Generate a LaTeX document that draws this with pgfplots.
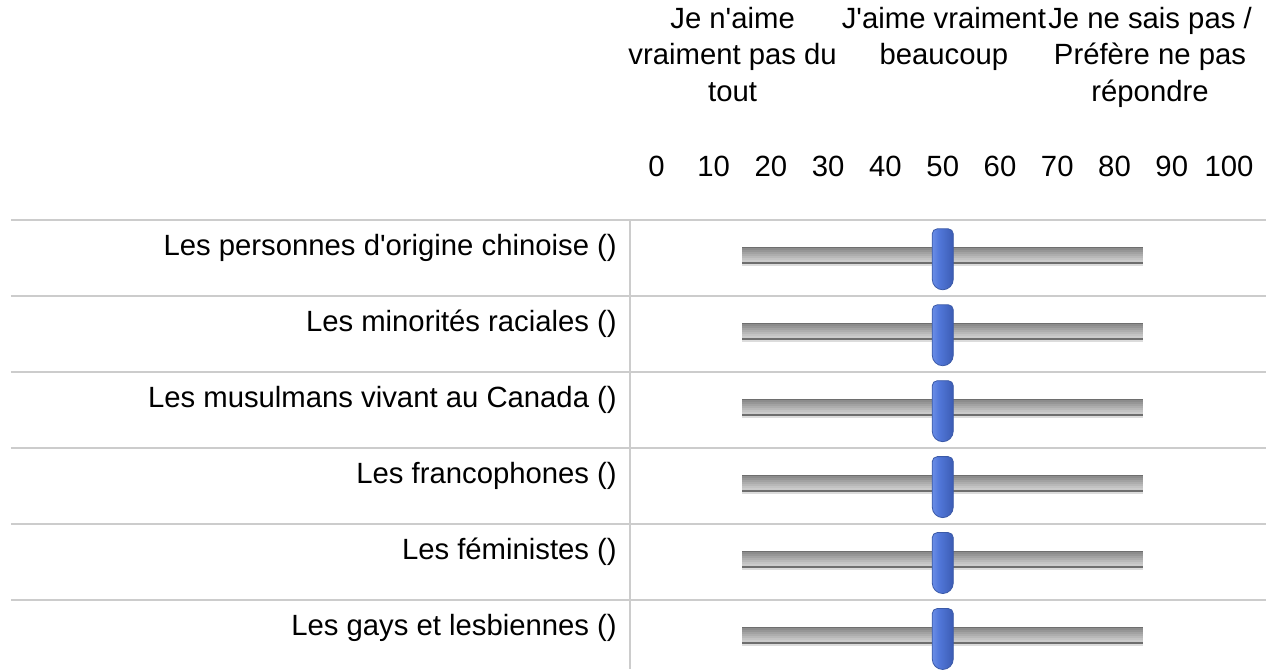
\documentclass[border=0pt]{standalone}
\usepackage{fontspec}
\setmainfont{Liberation Sans}
\usepackage{pgfplots}
\pgfplotsset{compat=1.18}

\definecolor{sepgray}{HTML}{CCCCCC}
\definecolor{trkU}{HTML}{DCDCDC}
\definecolor{trkD}{HTML}{6E6E6E}
\definecolor{trk1}{HTML}{8C8C8C}
\definecolor{trk2}{HTML}{969696}
\definecolor{trk3}{HTML}{A2A2A2}
\definecolor{trk4}{HTML}{ADADAD}
\definecolor{trk5}{HTML}{B8B8B8}
\definecolor{trk6}{HTML}{C3C3C3}
\definecolor{trk7}{HTML}{CBCBCB}
\definecolor{hA}{HTML}{6A8DE6}
\definecolor{hB}{HTML}{5278DA}
\definecolor{hC}{HTML}{3C5CB4}
\definecolor{hEdge}{HTML}{3B5AA8}

\pgfdeclarehorizontalshading{handleshade}{100bp}{color(0bp)=(hA); color(25bp)=(hA); color(40bp)=(hB); color(75bp)=(hC); color(100bp)=(hC)}

\pgfdeclareplotmark{slider}{%
  \pgfpathmoveto{\pgfqpoint{-10.5pt}{-21.5pt}}%
  \pgfpathlineto{\pgfqpoint{-10.5pt}{24pt}}%
  \pgfpatharc{180}{90}{5pt}%
  \pgfpathlineto{\pgfqpoint{5.5pt}{29pt}}%
  \pgfpatharc{90}{0}{5pt}%
  \pgfpathlineto{\pgfqpoint{10.5pt}{-21.5pt}}%
  \pgfpatharc{0}{-180}{10.5pt}%
  \pgfpathclose
  \pgfshadepath{handleshade}{0}%
  \pgfusepathqstroke
}

\newcommand\ap{\textquotesingle}
\newcommand\bigfont{\fontsize{29.3}{36}\selectfont}

\pgfplotstableread{
row value
0 50
1 50
2 50
3 50
4 50
5 50
}\sliderdata

\begin{document}
\begin{tikzpicture}
\begin{axis}[
  width=1267pt, height=670pt, scale only axis,
  xmin=-114.66, xmax=106.46,
  ymin=-3.3947, ymax=5.4211,
  y dir=reverse,
  axis line style={draw=none},
  ticks=none,
  clip=false,
]
\path (rel axis cs:0,0) rectangle (rel axis cs:1,1);

% separators
\pgfplotsinvokeforeach{-0.5,0.5,1.5,2.5,3.5,4.5}{
  \draw[sepgray, line width=2pt] (axis cs:-112.74,#1) -- (axis cs:106.46,#1);
}
\draw[sepgray, line width=2pt] (axis cs:-4.71,-0.5) -- (axis cs:-4.71,5.4211);

% slider tracks
\pgfplotsinvokeforeach{0,1,2,3,4,5}{
  \addplot[trkU, line width=19pt, yshift=1.5pt, forget plot] coordinates {(15,#1) (85,#1)};
  \addplot[trkD, line width=17pt, yshift=2.5pt, forget plot] coordinates {(15,#1) (85,#1)};
  \addplot[trk1, line width=2pt, yshift=8.5pt, forget plot] coordinates {(15,#1) (85,#1)};
  \addplot[trk2, line width=2pt, yshift=6.5pt, forget plot] coordinates {(15,#1) (85,#1)};
  \addplot[trk3, line width=2pt, yshift=4.5pt, forget plot] coordinates {(15,#1) (85,#1)};
  \addplot[trk4, line width=2pt, yshift=2.5pt, forget plot] coordinates {(15,#1) (85,#1)};
  \addplot[trk5, line width=2pt, yshift=0.5pt, forget plot] coordinates {(15,#1) (85,#1)};
  \addplot[trk6, line width=2pt, yshift=-1.5pt, forget plot] coordinates {(15,#1) (85,#1)};
  \addplot[trk7, line width=2pt, yshift=-3.5pt, forget plot] coordinates {(15,#1) (85,#1)};
}

% slider handles (values)
\addplot[only marks, mark=slider, mark options={draw=hEdge, line width=0.8pt}] table[x=value, y=row] {\sliderdata};

% scale numbers
\pgfplotsinvokeforeach{0,10,20,30,40,50,60,70,80,90,100}{
  \node[anchor=base, font=\bigfont, inner sep=0pt] at (axis cs:#1,-1.0724) {#1};
}

% header labels
\node[anchor=base, font=\bigfont, inner sep=0pt] at (axis cs:13.3,-3.0197) {Je n\ap aime};
\node[anchor=base, font=\bigfont, inner sep=0pt] at (axis cs:13.3,-2.5395) {vraiment pas du};
\node[anchor=base, font=\bigfont, inner sep=0pt] at (axis cs:13.3,-2.0592) {tout};
\node[anchor=base, font=\bigfont, inner sep=0pt] at (axis cs:50.2,-3.0197) {J\ap aime vraiment};
\node[anchor=base, font=\bigfont, inner sep=0pt] at (axis cs:50.2,-2.5395) {beaucoup};
\node[anchor=base, font=\bigfont, inner sep=0pt] at (axis cs:86.2,-3.0197) {Je ne sais pas /};
\node[anchor=base, font=\bigfont, inner sep=0pt] at (axis cs:86.2,-2.5395) {Préfère ne pas};
\node[anchor=base, font=\bigfont, inner sep=0pt] at (axis cs:86.2,-2.0592) {répondre};

% row labels
\node[anchor=base east, font=\bigfont, inner sep=0pt] at (axis cs:-6.90,-0.0329) {Les personnes d\ap origine chinoise ()};
\node[anchor=base east, font=\bigfont, inner sep=0pt] at (axis cs:-6.90,0.9671) {Les minorités raciales ()};
\node[anchor=base east, font=\bigfont, inner sep=0pt] at (axis cs:-6.90,1.9671) {Les musulmans vivant au Canada ()};
\node[anchor=base east, font=\bigfont, inner sep=0pt] at (axis cs:-6.90,2.9671) {Les francophones ()};
\node[anchor=base east, font=\bigfont, inner sep=0pt] at (axis cs:-6.90,3.9671) {Les féministes ()};
\node[anchor=base east, font=\bigfont, inner sep=0pt] at (axis cs:-6.90,4.9671) {Les gays et lesbiennes ()};
\end{axis}
\end{tikzpicture}
\end{document}
